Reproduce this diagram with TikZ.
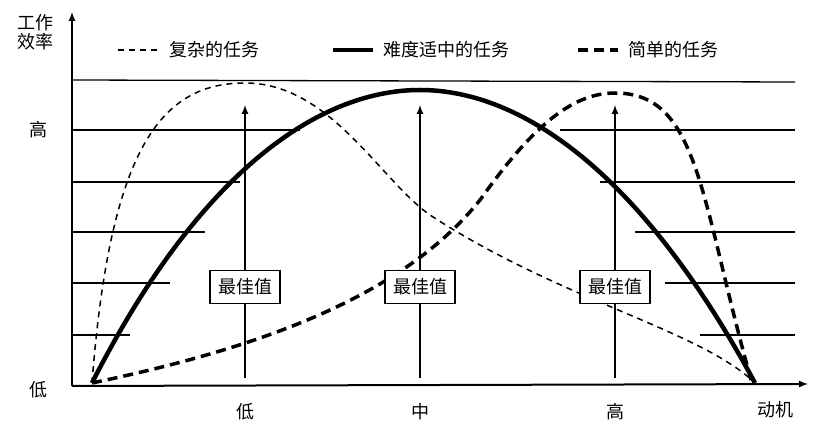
\documentclass[tikz,border=0pt]{standalone}
\usepackage{fontspec}
\setmainfont{Noto Sans CJK SC}
\begin{document}
\begin{tikzpicture}[x=1pt,y=-1pt,
  lbl/.style={font=\fontsize{18}{19}\selectfont},
  best/.style={draw,line width=1.5pt,fill=white,inner sep=8pt,font=\fontsize{18}{18}\selectfont},
  grid/.style={line width=1.3pt},
  hard/.style={line width=1.5pt,dash pattern=on 6pt off 5pt},
  mid/.style={line width=4.5pt},
  easy/.style={line width=3.5pt,dash pattern=on 10pt off 6pt}]
\useasboundingbox (0,0) rectangle (817,446);
% axes
\coordinate (o) at (72,386);
\coordinate (ytop) at (72,12);
\coordinate (xend) at (808,384);
\draw[line width=2pt,-latex] (o) -- (ytop);
\draw[line width=2pt,-latex] (o) -- (xend);
% horizontal lines
\draw[grid] (72,80) -- (795,82);
\draw[grid] (72,130) -- (300,130);
\draw[grid] (72,182) -- (240,182);
\draw[grid] (72,232) -- (205,232);
\draw[grid] (72,283) -- (170,283);
\draw[grid] (72,335) -- (130,335);
\draw[grid] (560,130) -- (795,130);
\draw[grid] (600,182) -- (795,182);
\draw[grid] (635,232) -- (795,232);
\draw[grid] (665,283) -- (795,283);
\draw[grid] (700,335) -- (795,335);
% curves
\draw[hard] (92,383) .. controls (110,150) and (160,83) .. (245,83)
  .. controls (330,83) and (380,180) .. (430,215)
  .. controls (560,300) and (700,330) .. (755,383);
\draw[mid] (92,383) .. controls (200,170) and (320,90) .. (420,90)
  .. controls (520,90) and (640,170) .. (755,383);
\draw[easy] (92,383) .. controls (250,350) and (400,300) .. (480,200)
  .. controls (530,130) and (570,93) .. (615,93)
  .. controls (700,93) and (700,200) .. (752,383);
% optimum arrows
\coordinate (b1) at (245,378); \coordinate (t1) at (245,105);
\coordinate (b2) at (420,378); \coordinate (t2) at (420,105);
\coordinate (b3) at (615,378); \coordinate (t3) at (615,105);
\draw[line width=2pt,-latex] (b1) -- (t1);
\draw[line width=2pt,-latex] (b2) -- (t2);
\draw[line width=2pt,-latex] (b3) -- (t3);
\node[best] (v1) at (245,287) {最佳值};
\node[best] (v2) at (420,287) {最佳值};
\node[best] (v3) at (615,287) {最佳值};
% axis labels
\node[lbl,align=center,inner sep=0pt] (yl) at (35,32) {工作\\效率};
\node[lbl] (yhi) at (38,130) {高};
\node[lbl] (ylo) at (38,390) {低};
\node[lbl] (xlo) at (245,412) {低};
\node[lbl] (xmid) at (420,412) {中};
\node[lbl] (xhi) at (615,412) {高};
\node[lbl] (xl) at (775,410) {动机};
% legend
\coordinate (k1a) at (118,50); \coordinate (k1b) at (160,50);
\coordinate (k2a) at (333,50); \coordinate (k2b) at (373,50);
\coordinate (k3a) at (578,50); \coordinate (k3b) at (618,50);
\draw[hard] (k1a) -- (k1b);
\draw[mid] (k2a) -- (k2b);
\draw[easy] (k3a) -- (k3b);
\node[lbl,anchor=west] (n1) at (166,50) {复杂的任务};
\node[lbl,anchor=west] (n2) at (380,50) {难度适中的任务};
\node[lbl,anchor=west] (n3) at (625,50) {简单的任务};
\end{tikzpicture}
\end{document}
